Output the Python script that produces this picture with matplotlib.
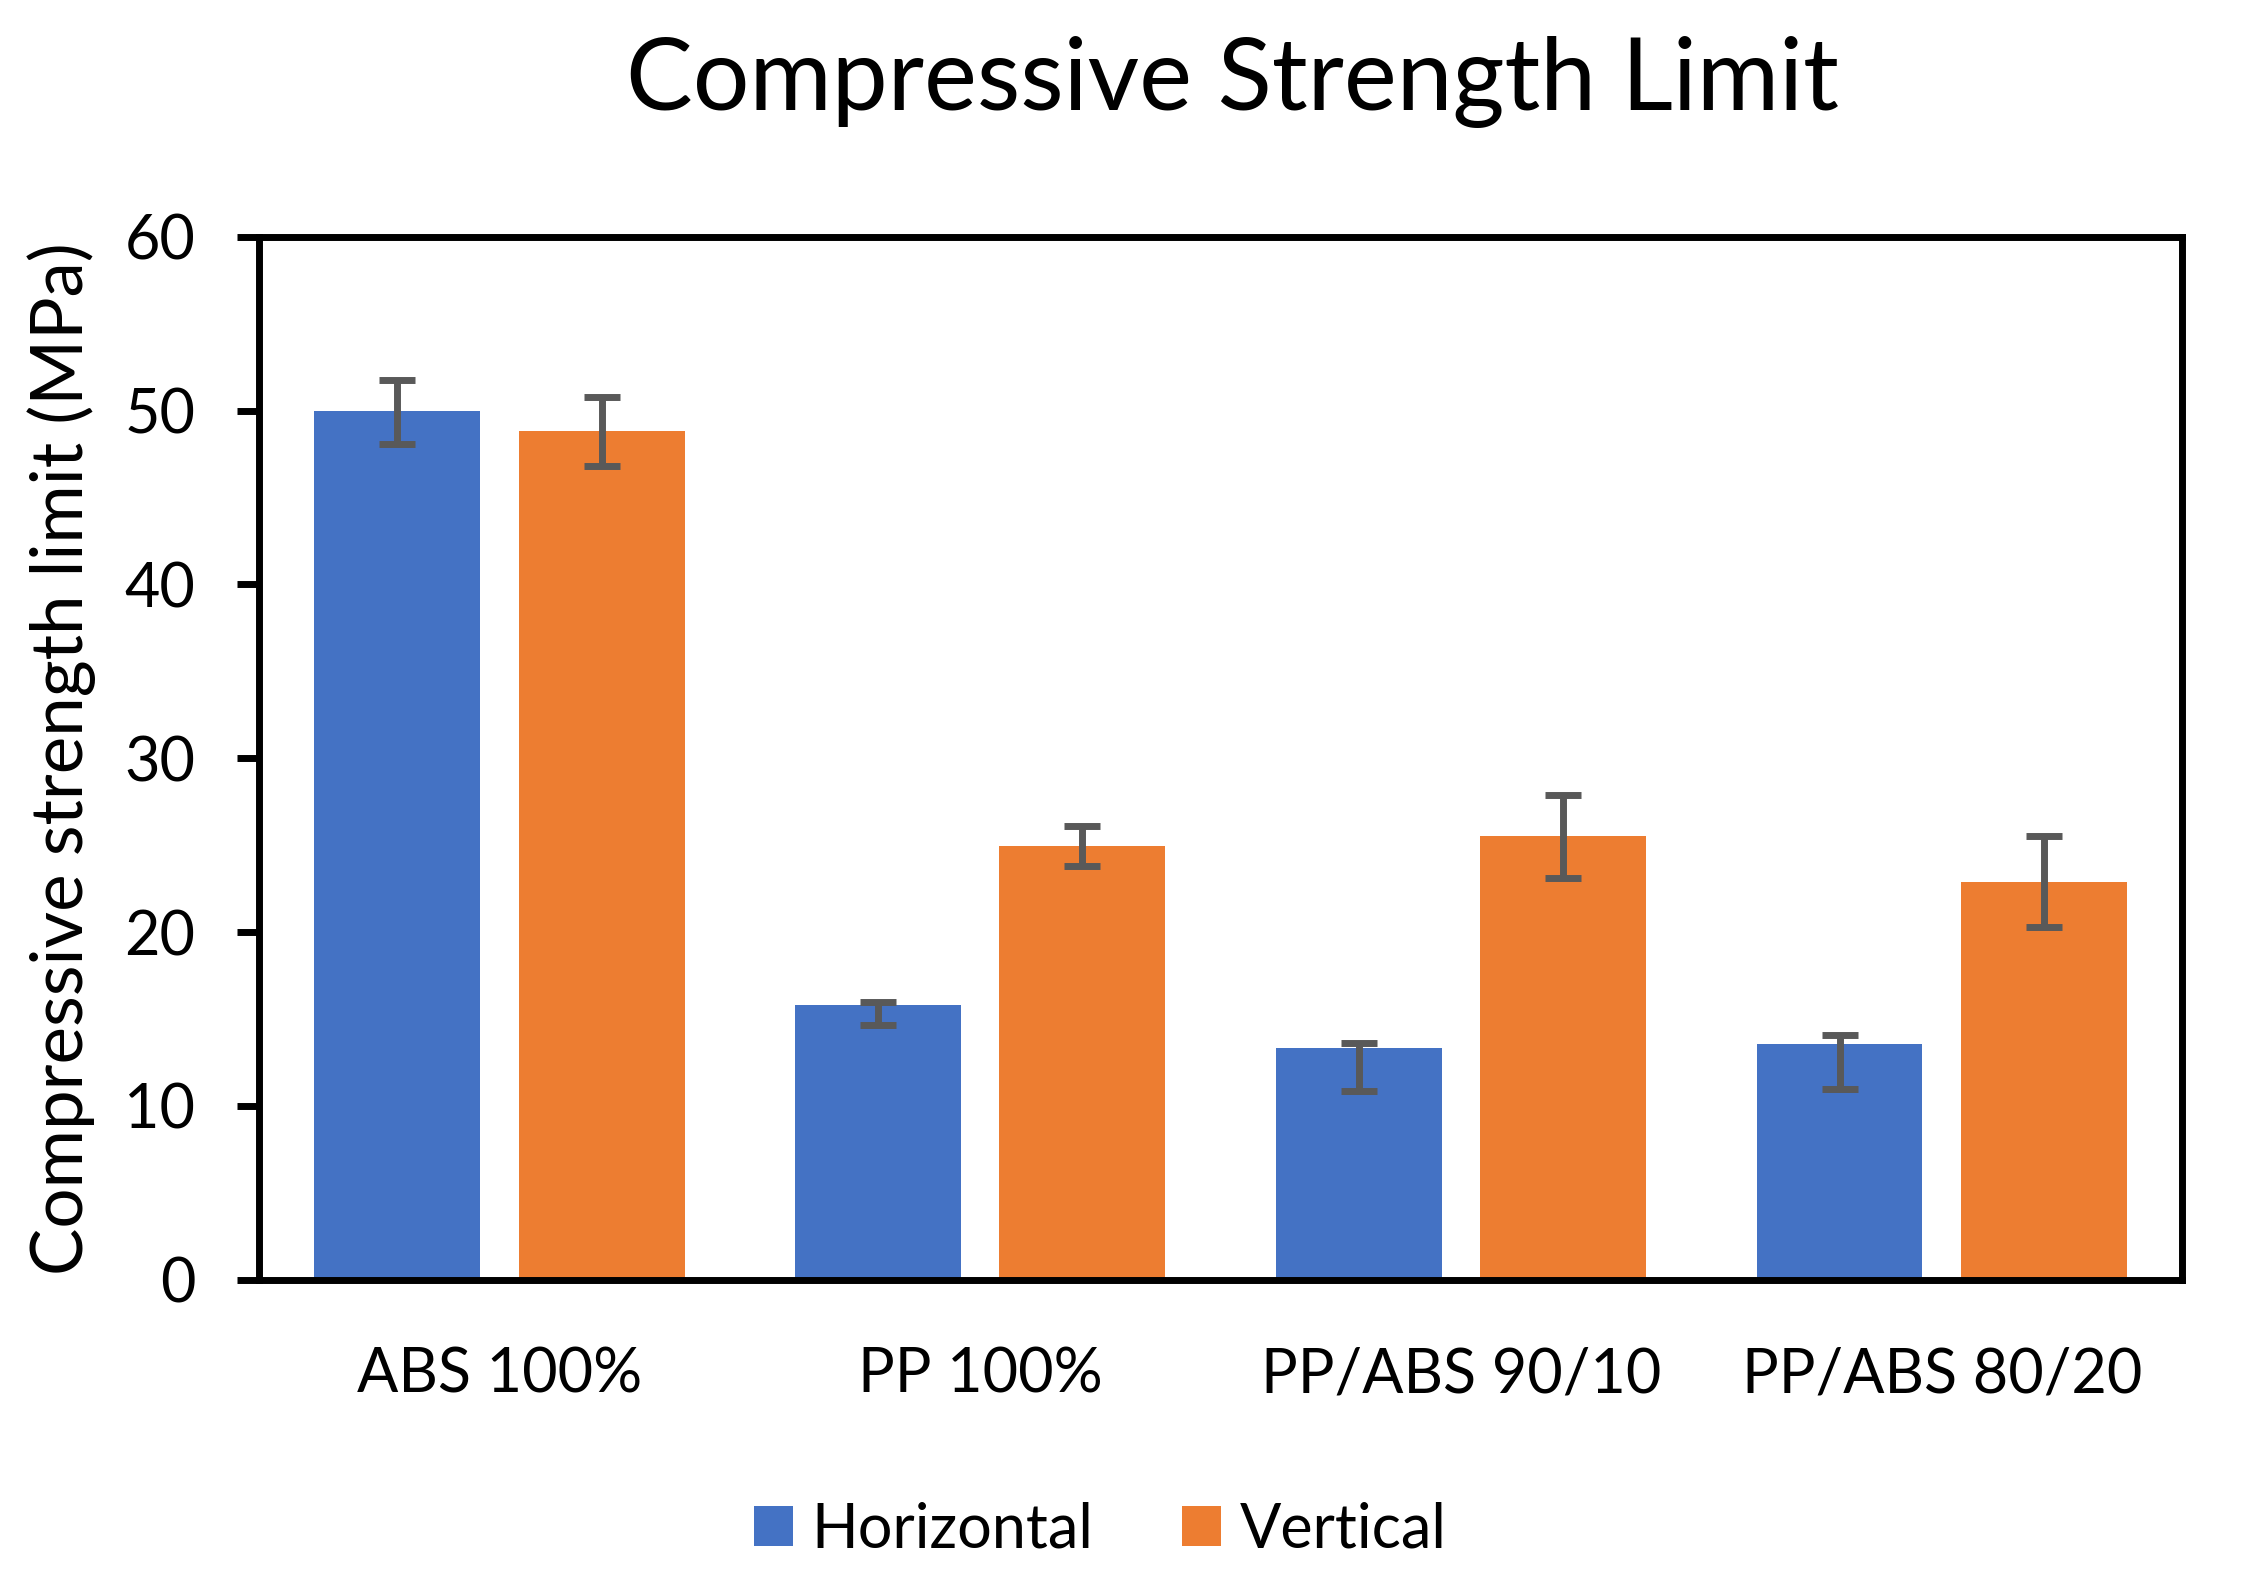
import numpy as np
import matplotlib
matplotlib.use("Agg")
import matplotlib.pyplot as plt

plt.rcParams["font.family"] = ["Lato", "DejaVu Sans"]

# --- data ---
categories = ["ABS 100%", "PP 100%", "PP/ABS 90/10", "PP/ABS 80/20"]
horizontal = [50.0, 15.8, 13.3, 13.55]
vertical = [48.8, 24.95, 25.5, 22.9]
# asymmetric error bars (lower, upper)
horiz_err_low = [1.95, 1.15, 2.45, 2.6]
horiz_err_high = [1.75, 0.2, 0.3, 0.5]
vert_err_low = [2.0, 1.15, 2.4, 2.6]
vert_err_high = [2.0, 1.15, 2.4, 2.6]

BLUE = "#4472C4"
ORANGE = "#ED7D31"
ERR = "#595959"

fig = plt.figure(figsize=(22.47, 15.82), dpi=100)
ax = fig.add_axes([0.1153, 0.1911, 0.8558, 0.6593])

x = np.arange(len(categories))
width = 0.345
offset = 0.2125

err_kw = dict(ecolor=ERR, elinewidth=5, capsize=13.3, capthick=5)
ax.bar(x - offset, horizontal, width, color=BLUE, label="Horizontal",
       yerr=[horiz_err_low, horiz_err_high], error_kw=err_kw)
ax.bar(x + offset, vertical, width, color=ORANGE, label="Vertical",
       yerr=[vert_err_low, vert_err_high], error_kw=err_kw)

ax.set_xlim(-0.5, len(categories) - 0.5)
ax.set_ylim(0, 60)
ax.set_yticks(np.arange(0, 61, 10))
ax.set_xticks(x)
ax.set_xticklabels(categories)

for side in ["left", "right", "top", "bottom"]:
    ax.spines[side].set_linewidth(5)
    ax.spines[side].set_color("black")
    ax.spines[side].set_zorder(5)

ax.tick_params(axis="y", direction="out", length=16, width=5, pad=30,
               labelsize=44)
ax.tick_params(axis="x", length=0, pad=48, labelsize=44)

ax.set_ylabel("Compressive strength limit (MPa)", fontsize=51, labelpad=20)
ax.set_title("Compressive Strength Limit", fontsize=72, pad=91,
             x=0.506)

fig.legend(loc="center", bbox_to_anchor=(1100 / 2247, 1 - 1530 / 1582),
           ncol=2, frameon=False, fontsize=44, handlelength=0.65,
           handleheight=0.65, handletextpad=0.3, columnspacing=1.44)

fig.savefig("out.png", dpi=100)
